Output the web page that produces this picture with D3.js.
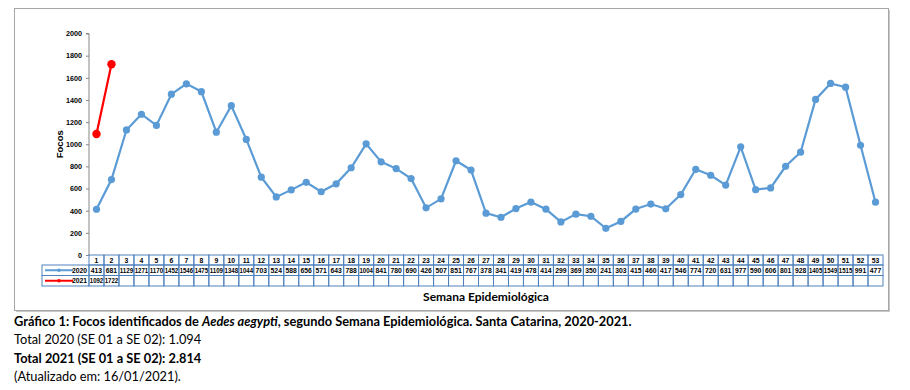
<!DOCTYPE html>
<html>
<head>
<meta charset="utf-8">
<script src="https://cdn.jsdelivr.net/npm/d3@7"></script>
<style>
  body { margin: 0; background: #fff; }
  .cap { font-family: Lato, "Open Sans", sans-serif; font-size: 12.8px; fill: #000; }
</style>
</head>
<body>
<div id="chart"></div>
<script>
// data
var weeks = d3.range(1, 54).map(String)
var focos2020 = [413, 681, 1129, 1271, 1170, 1452, 1546, 1475, 1109, 1348,
  1044, 703, 524, 588, 656, 571, 643, 788, 1004, 841,
  780, 690, 426, 507, 851, 767, 378, 341, 419, 478,
  414, 299, 369, 350, 241, 303, 415, 460, 417, 546,
  774, 720, 631, 977, 590, 606, 801, 928, 1405, 1549,
  1515, 991, 477]
var focos2021 = [1092, 1722]
var seriesNames = ["2020", "2021"]
var seriesColors = ["#5B9BD5", "#FF0000"]
var yTicks = [0, 200, 400, 600, 800, 1000, 1200, 1400, 1600, 1800, 2000]

var width = 910, height = 390

var svg = d3.select("#chart")
  .append("svg")
    .attr("width", width)
    .attr("height", height)

// chart frame with shadow
svg.append("rect")
  .attr("x", 16).attr("y", 10).attr("width", 874).attr("height", 302)
  .attr("fill", "#c8c8c8")
svg.append("rect")
  .attr("x", 14.5).attr("y", 8.5).attr("width", 874).attr("height", 302)
  .attr("fill", "#fff").attr("stroke", "#a6a6a6")

var x = d3.scaleBand()
  .domain(weeks)
  .range([89, 883])

var y = d3.scaleLinear()
  .domain([0, 2000])
  .range([255, 33.5])

// y axis
var yAxis = svg.append("g")
  .attr("transform", "translate(89,0)")
  .call(d3.axisLeft(y).tickValues(yTicks).tickFormat(d3.format("d")).tickSize(3).tickPadding(4))
yAxis.selectAll("path, line").attr("stroke", "#868686")
yAxis.select(".domain").attr("d", "M-3," + y(2000) + "H0V" + y(0))
yAxis.selectAll("text")
  .attr("font-family", "Liberation Sans, Arial, sans-serif")
  .attr("font-size", 7.2)
  .attr("font-weight", "bold")
  .attr("fill", "#000")

svg.append("text")
  .attr("transform", "translate(63," + y(1000) + ") rotate(-90)")
  .attr("text-anchor", "middle")
  .attr("font-family", "Liberation Sans, Arial, sans-serif")
  .attr("font-size", 9.5)
  .attr("font-weight", "bold")
  .text("Focos")

// lines
var cx = d => x(d) + x.bandwidth() / 2
var series = [focos2020, focos2021]

series.forEach(function (vals, s) {
  var pts = vals.map((v, i) => [cx(weeks[i]), y(v)])
  svg.append("path")
    .attr("d", d3.line()(pts))
    .attr("fill", "none")
    .attr("stroke", seriesColors[s])
    .attr("stroke-width", 2.2)
  svg.selectAll(null)
    .data(pts)
    .enter()
    .append("circle")
    .attr("cx", d => d[0])
    .attr("cy", d => d[1])
    .attr("r", s == 0 ? 3.6 : 4.2)
    .attr("fill", seriesColors[s])
})

// data table
var rowTop = [255, 265, 275.5, 286]
var tableColor = "#4F81BD"
var tbl = svg.append("g")
  .attr("font-family", "Liberation Sans, Arial, sans-serif")
  .attr("font-size", 6.8)
  .attr("font-weight", "bold")
  .attr("text-anchor", "middle")

// header
tbl.selectAll("rect.hd")
  .data(weeks)
  .enter()
  .append("rect")
  .attr("x", d => x(d)).attr("y", rowTop[0])
  .attr("width", x.bandwidth()).attr("height", rowTop[1] - rowTop[0])
  .attr("fill", "none").attr("stroke", tableColor).attr("stroke-width", 1)
tbl.selectAll("text.hd")
  .data(weeks)
  .enter()
  .append("text")
  .attr("x", d => cx(d)).attr("y", rowTop[0] + 7.7)
  .text(d => d)

series.forEach(function (vals, s) {
  var top = rowTop[s + 1], h = rowTop[s + 2] - top
  tbl.append("rect")
    .attr("x", 42).attr("y", top).attr("width", 47).attr("height", h)
    .attr("fill", "none").attr("stroke", tableColor)
  tbl.selectAll(null)
    .data(weeks)
    .enter()
    .append("rect")
    .attr("x", d => x(d)).attr("y", top)
    .attr("width", x.bandwidth()).attr("height", h)
    .attr("fill", "none").attr("stroke", tableColor)
  tbl.selectAll(null)
    .data(vals)
    .enter()
    .append("text")
    .attr("x", (d, i) => cx(weeks[i])).attr("y", top + h / 2 + 2.5)
    .attr("textLength", d => String(d).length > 3 ? 13.4 : null)
    .attr("lengthAdjust", "spacingAndGlyphs")
    .text(d => d)
  // legend key
  tbl.append("line")
    .attr("x1", 45).attr("x2", 73).attr("y1", top + h / 2).attr("y2", top + h / 2)
    .attr("stroke", seriesColors[s]).attr("stroke-width", 2)
  tbl.append("circle")
    .attr("cx", 59).attr("cy", top + h / 2).attr("r", 1.8)
    .attr("fill", seriesColors[s])
  tbl.append("text")
    .attr("x", 87).attr("y", top + h / 2 + 2.5)
    .attr("text-anchor", "end")
    .text(seriesNames[s])
})

svg.append("text")
  .attr("x", (x.range()[0] + x.range()[1]) / 2).attr("y", 301)
  .attr("text-anchor", "middle")
  .attr("font-family", "Lato, 'Open Sans', sans-serif")
  .attr("font-size", 12)
  .attr("font-weight", "bold")
  .text("Semana Epidemiológica")

// caption
var cap = svg.append("text").attr("class", "cap").attr("x", 14).attr("y", 326)
  .attr("font-weight", "bold")
cap.append("tspan").text("Gráfico 1: Focos identificados de ")
cap.append("tspan").attr("font-style", "italic").text("Aedes aegypti")
cap.append("tspan").text(", segundo Semana Epidemiológica. Santa Catarina, 2020-2021.")

svg.append("text").attr("class", "cap").attr("x", 14).attr("y", 344)
  .text("Total 2020 (SE 01 a SE 02): 1.094")
svg.append("text").attr("class", "cap").attr("x", 14).attr("y", 363)
  .attr("font-weight", "bold")
  .text("Total 2021 (SE 01 a SE 02): 2.814")
svg.append("text").attr("class", "cap").attr("x", 14).attr("y", 381)
  .text("(Atualizado em: 16/01/2021).")
</script>
</body>
</html>
